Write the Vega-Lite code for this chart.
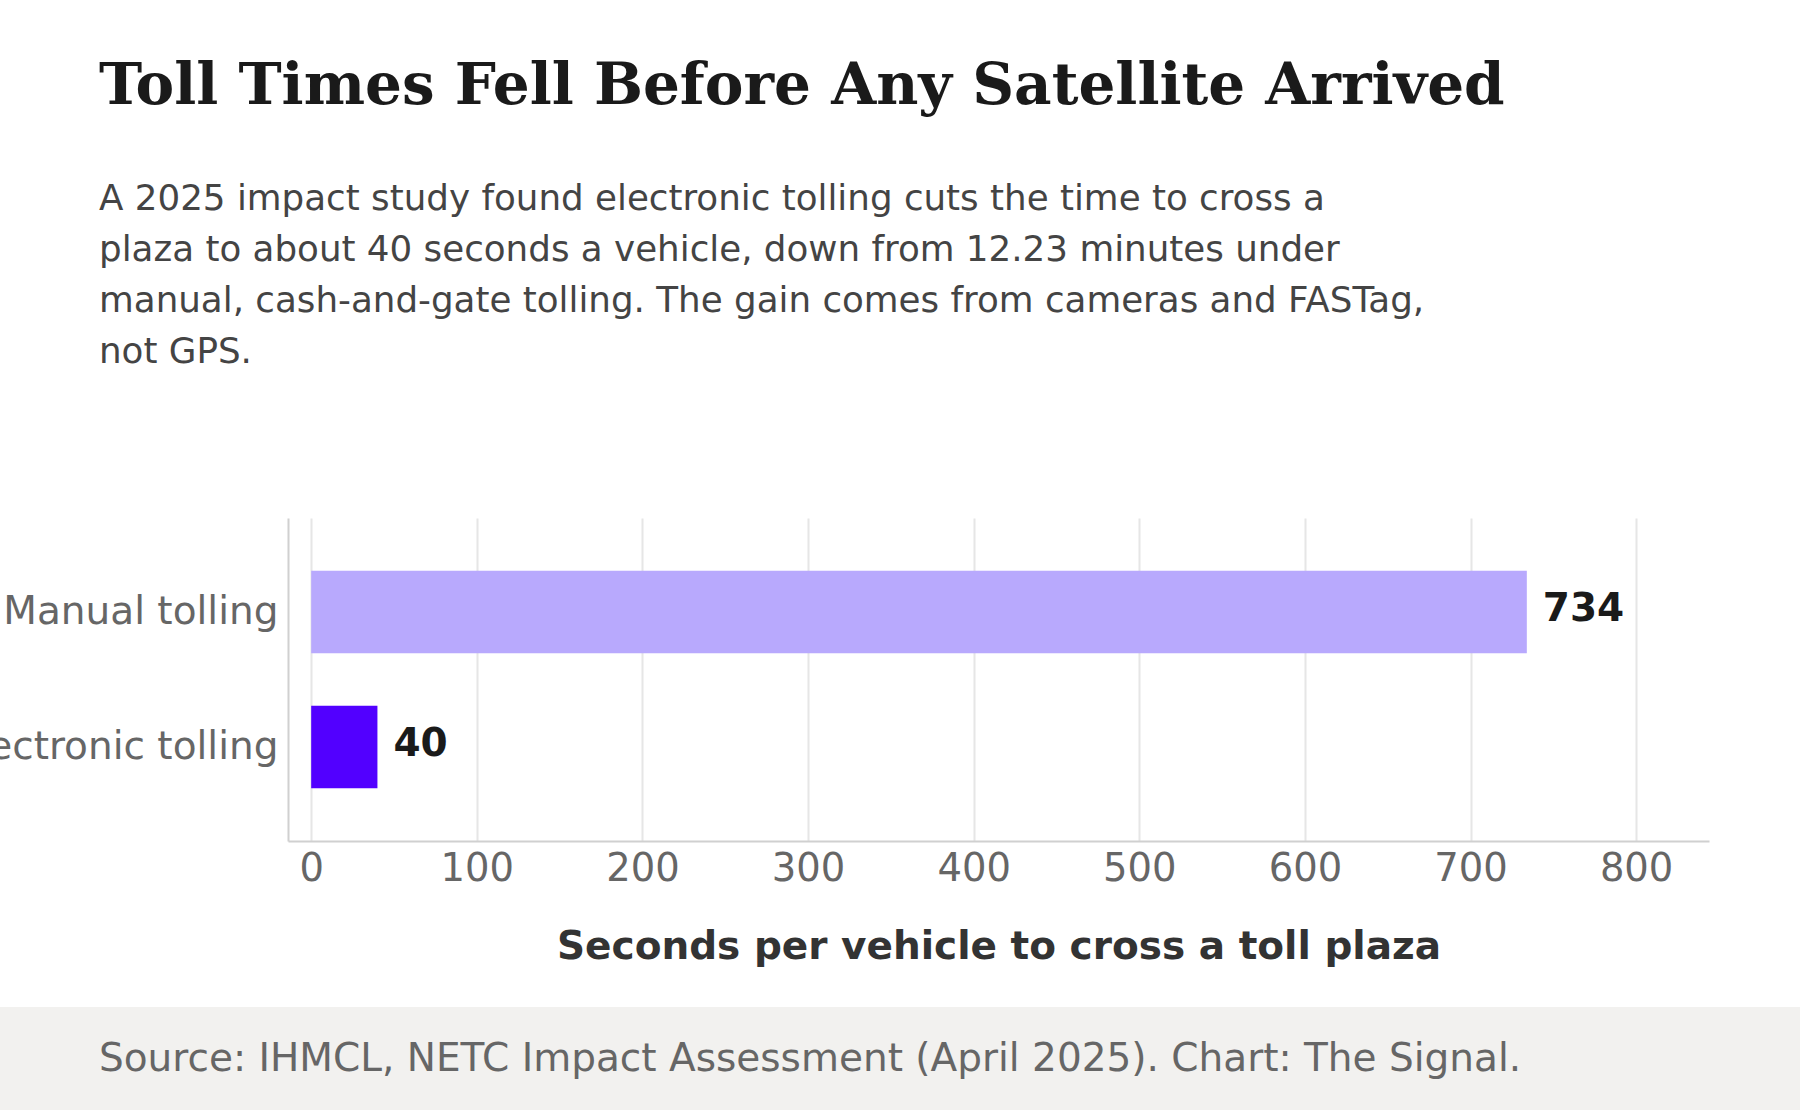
{
  "$schema": "https://vega.github.io/schema/vega-lite/v6.json",
  "width": 1421,
  "height": 323,
  "autosize": {"type": "none"},
  "padding": {"left": 288, "top": 518, "right": 91, "bottom": 269},
  "background": "white",
  "title": {
    "text": "Toll Times Fell Before Any Satellite Arrived",
    "subtitle": [
      "A 2025 impact study found electronic tolling cuts the time to cross a",
      "plaza to about 40 seconds a vehicle, down from 12.23 minutes under",
      "manual, cash-and-gate tolling. The gain comes from cameras and FASTag,",
      "not GPS."
    ],
    "anchor": "start",
    "frame": "group",
    "dx": -189,
    "offset": 148,
    "font": "DejaVu Serif",
    "fontSize": 58,
    "fontWeight": "bold",
    "color": "#1a1a1a",
    "subtitleFont": "DejaVu Sans",
    "subtitleFontSize": 35.7,
    "subtitleColor": "#444444",
    "subtitleLineHeight": 51,
    "subtitlePadding": 66
  },
  "config": {
    "view": {"stroke": null},
    "font": "DejaVu Sans"
  },
  "data": {
    "values": [
      {"method": "Manual tolling", "seconds": 734},
      {"method": "Electronic tolling", "seconds": 40}
    ]
  },
  "layer": [
    {
      "mark": {"type": "bar"},
      "encoding": {
        "y": {
          "field": "method",
          "type": "nominal",
          "sort": ["Manual tolling", "Electronic tolling"],
          "scale": {"paddingInner": 0.39, "paddingOuter": 0.39},
          "axis": {
            "title": null,
            "labelFontSize": 39,
            "labelColor": "#666666",
            "labelPadding": 10,
            "ticks": false,
            "domainColor": "#d0d0d0",
            "domainWidth": 2,
            "labelLimit": 0
          }
        },
        "x": {
          "field": "seconds",
          "type": "quantitative",
          "scale": {"domain": [-14, 844], "nice": false, "zero": false},
          "axis": {
            "values": [0, 100, 200, 300, 400, 500, 600, 700, 800],
            "title": "Seconds per vehicle to cross a toll plaza",
            "titleFontSize": 39,
            "titleFontWeight": "bold",
            "titleColor": "#333333",
            "titlePadding": 40,
            "labelFontSize": 38.5,
            "labelColor": "#666666",
            "labelPadding": 9,
            "ticks": false,
            "domainColor": "#d0d0d0",
            "domainWidth": 2,
            "gridColor": "#e6e6e6",
            "gridWidth": 2
          }
        },
        "color": {
          "field": "method",
          "type": "nominal",
          "scale": {
            "domain": ["Manual tolling", "Electronic tolling"],
            "range": ["#b8a9fd", "#5200ff"]
          },
          "legend": null
        }
      }
    },
    {
      "mark": {"type": "text", "align": "left", "dx": 16, "dy": -3, "fontSize": 39, "fontWeight": "bold", "color": "#1a1a1a"},
      "encoding": {
        "y": {"field": "method", "type": "nominal", "sort": ["Manual tolling", "Electronic tolling"]},
        "x": {"field": "seconds", "type": "quantitative"},
        "text": {"field": "seconds", "type": "quantitative"}
      }
    },
    {
      "data": {"values": [{"source": "Source: IHMCL, NETC Impact Assessment (April 2025). Chart: The Signal."}]},
      "mark": {"type": "rect", "color": "#f2f1ef"},
      "encoding": {
        "x": {"value": -288},
        "x2": {"value": 1512},
        "y": {"value": 489},
        "y2": {"value": 592}
      }
    },
    {
      "data": {"values": [{"source": "Source: IHMCL, NETC Impact Assessment (April 2025). Chart: The Signal."}]},
      "mark": {"type": "text", "align": "left", "baseline": "alphabetic", "fontSize": 39, "color": "#666666"},
      "encoding": {
        "x": {"value": -189},
        "y": {"value": 553},
        "text": {"field": "source"}
      }
    }
  ]
}
